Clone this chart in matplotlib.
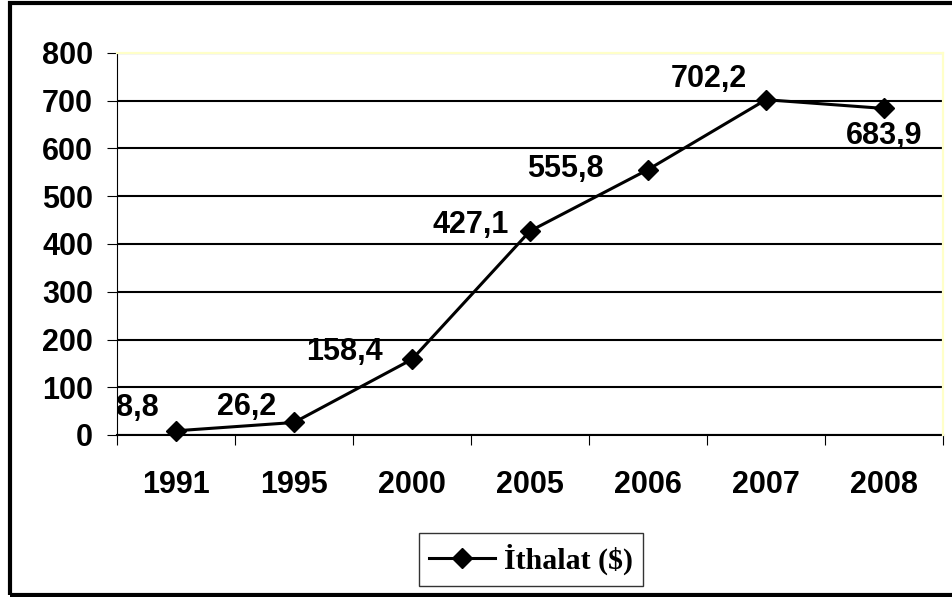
import numpy as np
import matplotlib
matplotlib.use('Agg')
import matplotlib.pyplot as plt
from matplotlib.patches import Rectangle

# veriler
years = ['1991', '1995', '2000', '2005', '2006', '2007', '2008']
ithalat = [8.8, 26.2, 158.4, 427.1, 555.8, 702.2, 683.9]
etiketler = ['8,8', '26,2', '158,4', '427,1', '555,8', '702,2', '683,9']
y_ticks = [0, 100, 200, 300, 400, 500, 600, 700, 800]

plt.rcParams['font.family'] = ['Liberation Sans', 'DejaVu Sans']
plt.rcParams['font.weight'] = 'bold'

fig = plt.figure(figsize=(9.53, 5.97), dpi=100)
ax = fig.add_axes([117 / 953, 162 / 597, 826 / 953, 382 / 597])

x = np.arange(len(years))
line, = ax.plot(x, ithalat, color='black', lw=2.2, marker='D', ms=10.5,
                label='İthalat ($)', zorder=5, clip_on=False)

ax.set_xlim(-0.5, len(years) - 0.5)
ax.set_ylim(0, 800)
ax.set_yticks(y_ticks)
ax.set_yticklabels([str(v) for v in y_ticks], fontsize=22, fontweight='bold')
ax.set_xticks(x)
ax.set_xticklabels(years, fontsize=22, fontweight='bold')
ax.set_xticks(np.arange(-0.5, len(years)), minor=True)
ax.tick_params(axis='x', which='major', length=0, pad=25)
ax.tick_params(axis='x', which='minor', length=7.2, width=0.8, direction='out')
ax.tick_params(axis='y', length=7.2, width=0.8, pad=10)

# izgara
ax.grid(axis='y', color='black', lw=1.5)
ax.set_axisbelow(True)

ax.spines['left'].set_linewidth(0.8)
ax.spines['bottom'].set_linewidth(1.5)
for s in ['top', 'right']:
    ax.spines[s].set_color('#FFFFC8')
    ax.spines[s].set_linewidth(1.6)
    ax.spines[s].set_zorder(6)

# veri etiketleri (piksel kaydirma)
ofsetler = [(-17, 23, 'right'), (-18, 15, 'right'), (-29, 7, 'right'),
            (-21, 6, 'right'), (-44, 1, 'right'), (-19, 21, 'right'),
            (0, -28, 'center')]
for i in range(len(years)):
    dx, dy, ha = ofsetler[i]
    ax.annotate(etiketler[i], (x[i], ithalat[i]), xytext=(dx, dy),
                textcoords='offset pixels', ha=ha, va='center',
                fontsize=22, fontweight='bold')

# lejant
leg = fig.legend(handles=[line], loc='center', bbox_to_anchor=(531 / 953, 37.5 / 597),
                 prop={'family': 'Liberation Serif', 'weight': 'bold', 'size': 21.5},
                 frameon=True, fancybox=False, handlelength=2.2, handletextpad=0.3,
                 borderpad=0.35, borderaxespad=0)
leg.get_frame().set_edgecolor('black')
leg.get_frame().set_linewidth(1.0)

# dis cerceve
fig.patches.append(Rectangle((10 / 953, 2.5 / 597), 1.0, 592 / 597,
                             transform=fig.transFigure, fill=False,
                             edgecolor='black', lw=3, clip_on=False))

fig.savefig('out.png', dpi=100)
